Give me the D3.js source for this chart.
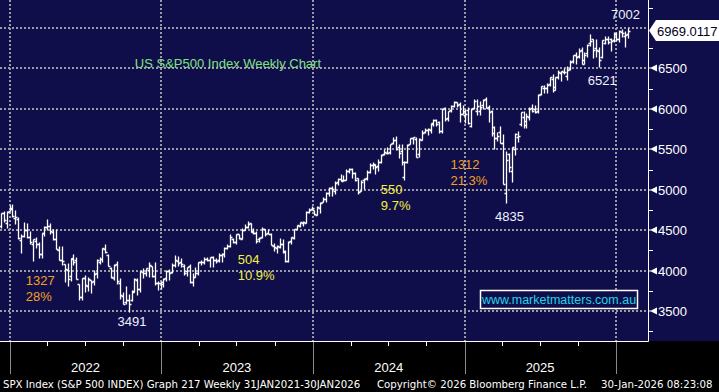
<!DOCTYPE html>
<html><head><meta charset="utf-8">
<script src="https://cdn.jsdelivr.net/npm/d3@7"></script>
<style>
html,body{margin:0;padding:0;background:#000;}
svg{display:block;}
</style></head><body>
<svg id="c" width="719" height="392"></svg>
<script>
// ---------- DATA ----------
const weeks = [
"2021-12-10","2021-12-17","2021-12-24","2021-12-31",
"2022-01-07","2022-01-14","2022-01-21","2022-01-28","2022-02-04","2022-02-11","2022-02-18","2022-02-25","2022-03-04","2022-03-11","2022-03-18","2022-03-25",
"2022-04-01","2022-04-08","2022-04-15","2022-04-22","2022-04-29","2022-05-06","2022-05-13","2022-05-20","2022-05-27","2022-06-03","2022-06-10","2022-06-17","2022-06-24",
"2022-07-01","2022-07-08","2022-07-15","2022-07-22","2022-07-29","2022-08-05","2022-08-12","2022-08-19","2022-08-26","2022-09-02","2022-09-09","2022-09-16","2022-09-23","2022-09-30",
"2022-10-07","2022-10-14","2022-10-21","2022-10-28","2022-11-04","2022-11-11","2022-11-18","2022-11-25","2022-12-02","2022-12-09","2022-12-16","2022-12-23","2022-12-30",
"2023-01-06","2023-01-13","2023-01-20","2023-01-27","2023-02-03","2023-02-10","2023-02-17","2023-02-24","2023-03-03","2023-03-10","2023-03-17","2023-03-24","2023-03-31",
"2023-04-07","2023-04-14","2023-04-21","2023-04-28","2023-05-05","2023-05-12","2023-05-19","2023-05-26","2023-06-02","2023-06-09","2023-06-16","2023-06-23","2023-06-30",
"2023-07-07","2023-07-14","2023-07-21","2023-07-28","2023-08-04","2023-08-11","2023-08-18","2023-08-25","2023-09-01","2023-09-08","2023-09-15","2023-09-22","2023-09-29",
"2023-10-06","2023-10-13","2023-10-20","2023-10-27","2023-11-03","2023-11-10","2023-11-17","2023-11-24","2023-12-01","2023-12-08","2023-12-15","2023-12-22","2023-12-29",
"2024-01-05","2024-01-12","2024-01-19","2024-01-26","2024-02-02","2024-02-09","2024-02-16","2024-02-23","2024-03-01","2024-03-08","2024-03-15","2024-03-22","2024-03-29",
"2024-04-05","2024-04-12","2024-04-19","2024-04-26","2024-05-03","2024-05-10","2024-05-17","2024-05-24","2024-05-31","2024-06-07","2024-06-14","2024-06-21","2024-06-28",
"2024-07-05","2024-07-12","2024-07-19","2024-07-26","2024-08-02","2024-08-09","2024-08-16","2024-08-23","2024-08-30","2024-09-06","2024-09-13","2024-09-20","2024-09-27",
"2024-10-04","2024-10-11","2024-10-18","2024-10-25","2024-11-01","2024-11-08","2024-11-15","2024-11-22","2024-11-29","2024-12-06","2024-12-13","2024-12-20","2024-12-27",
"2025-01-03","2025-01-10","2025-01-17","2025-01-24","2025-01-31","2025-02-07","2025-02-14","2025-02-21","2025-02-28","2025-03-07","2025-03-14","2025-03-21","2025-03-28",
"2025-04-04","2025-04-11","2025-04-18","2025-04-25","2025-05-02","2025-05-09","2025-05-16","2025-05-23","2025-05-30","2025-06-06","2025-06-13","2025-06-20","2025-06-27",
"2025-07-04","2025-07-11","2025-07-18","2025-07-25","2025-08-01","2025-08-08","2025-08-15","2025-08-22","2025-08-29","2025-09-05","2025-09-12","2025-09-19","2025-09-26",
"2025-10-03","2025-10-10","2025-10-17","2025-10-24","2025-10-31","2025-11-07","2025-11-14","2025-11-21","2025-11-28","2025-12-05","2025-12-12","2025-12-19","2025-12-26",
"2026-01-02","2026-01-09","2026-01-16","2026-01-23","2026-01-30"
];
const open = [
4548,4710,4587,4733,
4778,4655,4632,4381,4432,4505,4412,4332,4363,4327,4202,4462,4541,4547,4474,4385,4255,4130,4081,4013,3927,4149,4135,3838,3675,
3913,3815,3880,3876,3966,4112,4145,4270,4195,4034,3909,4084,3849,3682,3610,3640,3638,3740,3881,3767,3977,3966,4006,4052,3939,3850,3843,
3853,3911,3999,3979,4066,4119,4100,4060,3992,4055,3856,3917,3974,4102,4104,4137,4134,4166,4136,4126,4190,4201,4282,4304,4396,4354,
4450,4394,4505,4543,4584,4492,4459,4389,4415,4510,4462,4453,4310,4284,4289,4331,4238,4120,4364,4406,4514,4554,4586,4593,4725,4758,
4745,4690,4772,4848,4888,4957,5026,4989,5093,5131,5111,5123,5233,5257,5211,5149,4988,5114,5143,5221,5303,5315,5297,5341,5440,5459,
5471,5572,5615,5525,5476,5152,5345,5567,5636,5624,5443,5615,5711,5737,5737,5820,5860,5833,5723,6008,5893,5992,6040,6083,6058,5942,
5920,5982,5782,6014,5969,5970,6046,6121,6026,5968,5705,5645,5718,5580,4954,5441,5232,5508,5655,5807,5902,5854,5897,6005,6004,5970,
6187,6259,6255,6304,6375,6271,6389,6445,6457,6409,6490,6586,6672,6650,6722,6600,6690,6820,6860,6750,6720,6640,6812,6870,6860,6850,
6920,6860,6955,6900,6930
];
const high = [
4713,4731,4740,4808,
4818,4749,4664,4453,4595,4590,4489,4385,4416,4350,4465,4546,4637,4593,4520,4512,4308,4307,4082,4090,4158,4204,4168,3838,3913,
3945,3918,3880,4012,4140,4167,4280,4325,4204,4041,4077,4120,3907,3736,3807,3710,3762,3906,3911,3999,4028,4034,4101,4052,4101,3877,3873,
3906,4003,4015,4095,4195,4176,4157,4081,4048,4078,3965,4039,4110,4133,4163,4169,4170,4184,4154,4213,4212,4290,4323,4448,4408,4458,
4456,4527,4578,4607,4594,4527,4490,4418,4541,4514,4511,4462,4338,4317,4397,4393,4259,4366,4418,4520,4568,4599,4609,4738,4778,4793,
4754,4803,4842,4907,4975,5030,5048,5111,5140,5189,5179,5261,5264,5263,5220,5150,5114,5146,5239,5325,5342,5316,5376,5447,5505,5523,
5570,5655,5670,5564,5566,5358,5563,5643,5651,5651,5636,5734,5767,5765,5822,5878,5878,5850,6012,6017,5972,6044,6099,6089,6086,6050,
5993,6022,6014,6128,6120,6101,6128,6147,6043,5986,5783,5715,5786,5691,5481,5459,5528,5700,5720,5958,5968,5944,6017,6059,6049,6187,
6284,6290,6315,6395,6427,6395,6481,6467,6508,6532,6600,6672,6699,6750,6764,6698,6807,6920,6862,6869,6770,6853,6895,6901,6880,6946,
6945,6978,6986,6960,7002
];
const low = [
4531,4600,4531,4733,
4662,4582,4395,4222,4414,4401,4327,4115,4280,4157,4161,4424,4506,4450,4382,4267,4129,4063,3859,3811,3875,4073,3900,3637,3640,
3738,3742,3721,3818,3910,4080,4112,4218,4057,3906,3886,3837,3647,3584,3585,3491,3620,3733,3698,3736,3907,3938,3918,3919,3827,3765,3778,
3794,3877,3885,3965,4049,4061,4048,3944,3928,3846,3809,3917,3951,4069,4085,4113,4049,4048,4099,4103,4103,4166,4262,4290,4341,4328,
4385,4389,4503,4527,4474,4458,4335,4356,4403,4430,4448,4316,4238,4216,4283,4223,4104,4103,4329,4389,4511,4537,4546,4593,4709,4751,
4682,4682,4714,4844,4845,4919,4920,4953,5057,5103,5104,5117,5204,5146,5107,4953,4982,5012,5114,5211,5257,5191,5234,5325,5432,5447,
5445,5570,5497,5390,5302,5120,5331,5560,5561,5403,5402,5615,5703,5674,5696,5784,5783,5703,5706,5853,5855,5963,6026,6024,5832,5932,
5829,5809,5773,5997,5924,5923,6003,6008,5837,5666,5505,5597,5572,5069,4835,5220,5101,5434,5589,5786,5767,5767,5861,5964,5953,5943,
6172,6201,6201,6281,6212,6237,6374,6343,6430,6360,6482,6567,6551,6633,6550,6550,6643,6780,6631,6645,6521,6625,6799,6800,6720,6830,
6840,6825,6890,6770,6871
];
const close = [
4712,4620,4725,4766,
4677,4662,4398,4432,4500,4419,4349,4385,4329,4204,4463,4543,4546,4488,4392,4272,4132,4123,4024,3901,4158,4109,3901,3675,3912,
3825,3899,3863,3962,4130,4145,4280,4228,4058,3924,4067,3873,3693,3586,3640,3583,3753,3901,3771,3993,3965,4026,4072,3934,3852,3845,3840,
3895,3999,3973,4071,4136,4090,4079,3970,4045,3862,3917,3971,4109,4105,4137,4133,4169,4136,4124,4192,4205,4282,4299,4410,4348,4450,
4399,4505,4536,4582,4478,4464,4370,4406,4515,4457,4450,4320,4288,4308,4328,4224,4117,4358,4415,4514,4559,4595,4604,4719,4754,4770,
4697,4784,4840,4891,4959,5027,5006,5089,5137,5124,5117,5234,5254,5204,5123,4967,5100,5128,5223,5303,5305,5278,5347,5432,5465,5460,
5567,5615,5505,5459,5346,5344,5554,5634,5648,5408,5626,5703,5738,5751,5815,5865,5808,5729,5995,5870,5969,6032,6090,6051,5931,5970,
5942,5827,5997,6101,6041,6026,6115,6013,5955,5770,5639,5668,5581,5074,5363,5283,5525,5686,5660,5958,5803,5912,6000,5977,5967,6173,
6279,6260,6297,6389,6238,6389,6450,6467,6460,6482,6584,6664,6644,6716,6553,6664,6792,6840,6729,6734,6603,6849,6870,6827,6835,6930,
6858,6966,6940,6915,6969
];
const lastPrice = "6969.0117";
const yMajorTicks = [3500,4000,4500,5000,5500,6000,6500,7000];
const yLabelTicks = [3500,4000,4500,5000,5500,6000,6500];
const yMinorTicks = [3250,3750,4250,4750,5250,5750,6250,6750,7250];
const yearLabels = ["2022","2023","2024","2025"];
// annotations: text, anchor date, anchor value
const annText  = ["1327","28%","3491","504","10.9%","550","9.7%","1312","21.3%","4835","6521","7002"];
const annDate  = ["2022-02-08","2022-02-08","2022-10-22","2023-07-04","2023-07-04","2024-06-13","2024-06-13","2024-11-28","2024-11-28","2025-04-19","2025-11-29","2026-01-24"];
const annValue = [3822,3624,3315,4081,3884,4947,4749,5256,5058,4613,6295,7111];
const annKind  = ["drop","drop","level","gain","gain","gain","gain","drop","drop","level","level","level"];
const titleText = "US S&P500 Index Weekly Chart";
const titleDate = "2022-10-29", titleValue = 6505;
const urlText = "www.marketmatters.com.au";
const footer1 = "SPX Index (S&P 500 INDEX) Graph 217 Weekly 31JAN2021-30JAN2026";
const footer2 = "Copyright\u00A9 2026 Bloomberg Finance L.P.";
const footer3 = "30-Jan-2026 08:23:08";

// ---------- DRAW ----------
const W = 719, H = 392, plotR = 648, plotB = 341;
const parse = d3.utcParse("%Y-%m-%d");
const svg = d3.select("#c");
const x = d3.scaleUtc().domain([parse("2022-01-01"), parse("2026-01-01")]).range([10, 616]);
const y = d3.scaleLinear().domain([3500, 7000]).range([311, 28]);
const NAVY = "#100e4a";
const FONT = "'Liberation Sans', Arial, sans-serif";

svg.append("rect").attr("width", W).attr("height", H).attr("fill", "#000");
svg.append("rect").attr("width", W).attr("height", plotB).attr("fill", NAVY);

// gridlines
const grid = svg.append("g").attr("stroke", "#9a9aa4").attr("stroke-width", 2).attr("stroke-dasharray", "2,2");
grid.selectAll("line.h").data(yMajorTicks).join("line")
  .attr("x1", 0).attr("x2", plotR).attr("y1", d => Math.round(y(d))).attr("y2", d => Math.round(y(d)));
const years = d3.utcYear.range(parse("2022-01-01"), parse("2026-06-01"));
grid.selectAll("line.v").data(years).join("line")
  .attr("x1", d => Math.round(x(d))).attr("x2", d => Math.round(x(d))).attr("y1", 0).attr("y2", plotB);

// bars
const defs = svg.append("defs");
defs.append("clipPath").attr("id", "pc").append("rect").attr("width", plotR).attr("height", plotB);
const idx = d3.range(weeks.length);
const px = i => Math.round(x(parse(weeks[i]))) + 0.5;
const py = v => Math.round(y(v)) + 0.5;
svg.append("g").attr("clip-path", "url(#pc)")
  .selectAll("path").data(idx).join("path")
  .attr("d", i => `M${px(i)},${py(high[i])}V${py(low[i])}M${px(i)-2},${py(open[i])}H${px(i)}M${px(i)},${py(close[i])}H${px(i)+2}`)
  .attr("stroke", "#fff").attr("stroke-width", 1.3).attr("fill", "none");

// axes lines
svg.append("line").attr("x1", 0).attr("x2", plotR + 0.5).attr("y1", plotB + 0.5).attr("y2", plotB + 0.5).attr("stroke", "#fff");
svg.append("line").attr("x1", plotR + 0.5).attr("x2", plotR + 0.5).attr("y1", 0).attr("y2", plotB + 0.5).attr("stroke", "#fff");

// bottom axis ticks
const quarters = d3.utcMonth.every(3).range(parse("2021-10-01"), parse("2026-02-01")).filter(d => d.getUTCMonth() !== 0);
svg.append("g").selectAll("line").data(quarters.filter(d => x(d) >= 0 && x(d) <= plotR)).join("line")
  .attr("x1", d => Math.round(x(d)) + 0.5).attr("x2", d => Math.round(x(d)) + 0.5)
  .attr("y1", plotB).attr("y2", plotB + 5).attr("stroke", "#fff");
svg.append("g").selectAll("line").data(years).join("line")
  .attr("x1", d => Math.round(x(d)) + 0.5).attr("x2", d => Math.round(x(d)) + 0.5)
  .attr("y1", plotB + 1).attr("y2", plotB + 33).attr("stroke", "#8a8a8a");
svg.append("g").selectAll("text").data(yearLabels).join("text")
  .attr("x", d => x(parse(d + "-07-02"))).attr("y", 372)
  .attr("text-anchor", "middle").attr("fill", "#fff")
  .attr("font-family", FONT).attr("font-size", 13).text(d => d);

// right axis
svg.append("g").selectAll("line").data(yMinorTicks).join("line")
  .attr("x1", plotR).attr("x2", plotR + 5)
  .attr("y1", d => Math.round(y(d)) + 0.5).attr("y2", d => Math.round(y(d)) + 0.5).attr("stroke", "#fff");
const rl = svg.append("g").selectAll("g").data(yLabelTicks).join("g")
  .attr("transform", d => `translate(0,${Math.round(y(d))})`);
rl.append("path").attr("d", `M${plotR},-0.5H${plotR+3}L${plotR+9},-3.5V3.5L${plotR+3},0.5H${plotR}Z`).attr("fill", "#fff");
rl.append("text").attr("x", 658).attr("y", 5).attr("fill", "#fff")
  .attr("font-family", FONT).attr("font-size", 13).text(d => d);

// last price flag
const yc = y(close[close.length - 1]);
svg.append("path")
  .attr("d", `M${plotR+1},${yc}L${plotR+8},${yc-10.5}H${W}V${yc+10.5}H${plotR+8}Z`)
  .attr("fill", "#fff");
svg.append("text").attr("x", 657).attr("y", yc + 5).attr("fill", "#000022")
  .attr("font-family", FONT).attr("font-size", 13).text(lastPrice);

// title
svg.append("text").attr("x", x(parse(titleDate))).attr("y", y(titleValue))
  .attr("fill", "#82e082").attr("font-family", FONT).attr("font-size", 13).text(titleText);

// annotations
const annColor = { drop: "#f0a024", gain: "#f2f23c", level: "#f0f0ff" };
svg.append("g").selectAll("text").data(annText).join("text")
  .attr("x", (d, i) => x(parse(annDate[i]))).attr("y", (d, i) => y(annValue[i]))
  .attr("text-anchor", (d, i) => annKind[i] === "level" ? "middle" : "start")
  .attr("fill", (d, i) => annColor[annKind[i]])
  .attr("font-family", FONT).attr("font-size", 13).text(d => d);

// url box
svg.append("rect").attr("x", 480.5).attr("y", 290.5).attr("width", 157).attr("height", 18)
  .attr("fill", NAVY).attr("stroke", "#fff").attr("stroke-width", 1.5);
svg.append("text").attr("x", 559).attr("y", 304).attr("text-anchor", "middle")
  .attr("fill", "#22d4e8").attr("font-family", FONT).attr("font-size", 12.5).text(urlText);

// footer
const ff = "'DejaVu Sans', Verdana, sans-serif";
svg.append("text").attr("x", 3).attr("y", 388).attr("fill", "#fff").attr("font-family", ff).attr("font-size", 10.2).text(footer1);
svg.append("text").attr("x", 377).attr("y", 388).attr("fill", "#fff").attr("font-family", ff).attr("font-size", 10.2).text(footer2);
svg.append("text").attr("x", 601).attr("y", 388).attr("fill", "#fff").attr("font-family", ff).attr("font-size", 10.2).text(footer3);
</script>
</body></html>
